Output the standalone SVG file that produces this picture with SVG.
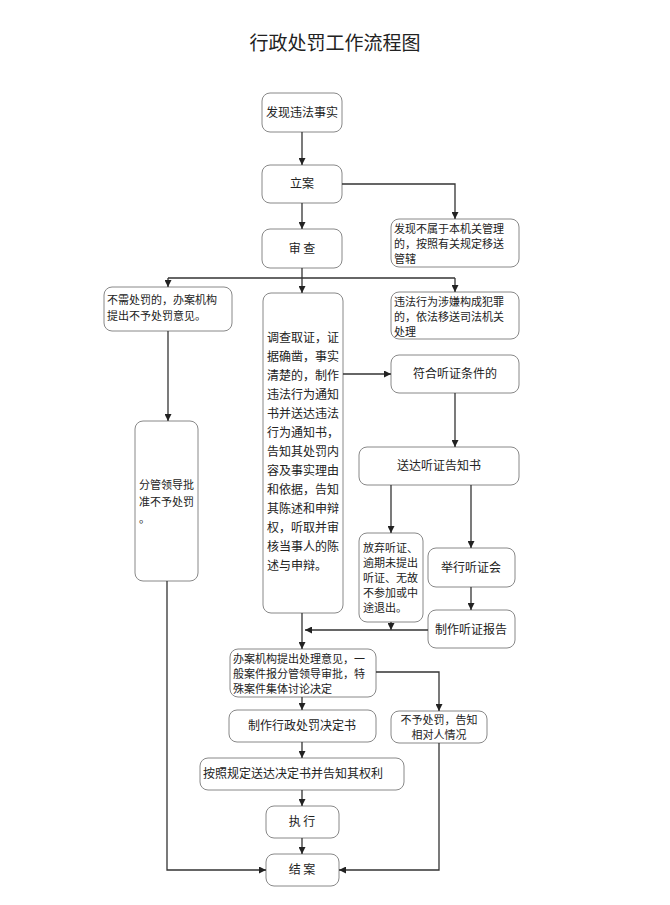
<svg xmlns="http://www.w3.org/2000/svg" width="670" height="905" viewBox="0 0 670 905">
<style>
rect{fill:#fff;stroke:#888;stroke-width:1}
text{font-family:"Noto Sans CJK SC","Liberation Serif",sans-serif;font-size:12px;fill:#222}
.s{font-size:11px}
.c{text-anchor:middle}
.l{fill:none;stroke:#333;stroke-width:1.3}
</style>
<defs><marker id="a" viewBox="0 0 10 10" refX="10" refY="5" markerWidth="7" markerHeight="7" orient="auto" markerUnits="userSpaceOnUse"><path d="M0,0L10,5L0,10z" fill="#222"/></marker></defs>
<rect x="0" y="0" width="670" height="905" style="stroke:none"/>
<text x="335" y="50" class="c" style="font-size:19px">行政处罚工作流程图</text>
<g id="n1"><rect x="262" y="93" width="80" height="39" rx="8"/><text x="302" y="117" class="c">发现违法事实</text></g>
<g id="n2"><rect x="262" y="165" width="80" height="38" rx="8"/><text x="302" y="188" class="c">立案</text></g>
<g id="n3"><rect x="262" y="229" width="80" height="39" rx="8"/><text x="302" y="253" class="c">审  查</text></g>
<g id="n4"><rect x="391" y="219" width="128" height="48" rx="8"/><text class="s" x="394" y="233">发现不属于本机关管理</text><text class="s" x="394" y="248">的，按照有关规定移送</text><text class="s" x="394" y="263">管辖</text></g>
<g id="n5"><rect x="104" y="287" width="128" height="44" rx="8"/><text class="s" x="107" y="304">不需处罚的，办案机构</text><text class="s" x="107" y="320">提出不予处罚意见。</text></g>
<g id="n6"><rect x="263" y="293" width="80" height="320" rx="8"/>
<text x="267" y="342">调查取证，证</text><text x="267" y="361">据确凿，事实</text><text x="267" y="380">清楚的，制作</text><text x="267" y="399">违法行为通知</text><text x="267" y="418">书并送达违法</text><text x="267" y="437">行为通知书，</text><text x="267" y="456">告知其处罚内</text><text x="267" y="475">容及事实理由</text><text x="267" y="494">和依据，告知</text><text x="267" y="513">其陈述和申辩</text><text x="267" y="532">权，听取并审</text><text x="267" y="551">核当事人的陈</text><text x="267" y="570">述与申辩。</text></g>
<g id="n7"><rect x="391" y="292" width="128" height="47" rx="8"/><text class="s" x="394" y="306">违法行为涉嫌构成犯罪</text><text class="s" x="394" y="321">的，依法移送司法机关</text><text class="s" x="394" y="336">处理</text></g>
<g id="n8"><rect x="391" y="355" width="128" height="38" rx="8"/><text x="455" y="378" class="c">符合听证条件的</text></g>
<g id="n9"><rect x="359" y="447" width="160" height="38" rx="8"/><text x="439" y="470" class="c">送达听证告知书</text></g>
<g id="n10"><rect x="135" y="421" width="63" height="160" rx="8"/><text class="s" x="139" y="489">分管领导批</text><text class="s" x="139" y="506">准不予处罚</text><text class="s" x="139" y="523">。</text></g>
<g id="n11"><rect x="359" y="533" width="64" height="89" rx="8"/><text class="s" x="363" y="552">放弃听证、</text><text class="s" x="363" y="567">逾期未提出</text><text class="s" x="363" y="582">听证、无故</text><text class="s" x="363" y="597">不参加或中</text><text class="s" x="363" y="612">途退出。</text></g>
<g id="n12"><rect x="428" y="548" width="87" height="39" rx="8"/><text x="471" y="572" class="c">举行听证会</text></g>
<g id="n13"><rect x="428" y="610" width="87" height="38" rx="8"/><text x="471" y="634" class="c">制作听证报告</text></g>
<g id="n14"><rect x="230" y="649" width="146" height="48" rx="8"/><text class="s" x="233" y="663">办案机构提出处理意见，一</text><text class="s" x="233" y="678">般案件报分管领导审批，特</text><text class="s" x="233" y="693">殊案件集体讨论决定</text></g>
<g id="n15"><rect x="229" y="710" width="147" height="32" rx="8"/><text x="302" y="730" class="c">制作行政处罚决定书</text></g>
<g id="n16"><rect x="391" y="711" width="96" height="32" rx="8"/><text x="439" y="724" class="c s">不予处罚，告知</text><text x="439" y="739" class="c s">相对人情况</text></g>
<g id="n17"><rect x="200" y="758" width="204" height="32" rx="8"/><text x="203" y="778">按照规定送达决定书并告知其权利</text></g>
<g id="n18"><rect x="266" y="806" width="73" height="32" rx="8"/><text x="302" y="826" class="c">执    行</text></g>
<g id="n19"><rect x="266" y="854" width="73" height="32" rx="8"/><text x="302" y="874" class="c">结    案</text></g>
<g id="connectors" class="l">
<path class="l" d="M302,132V165" marker-end="url(#a)"/>
<path class="l" d="M302,203V229" marker-end="url(#a)"/>
<path class="l" d="M342,184H455V219" marker-end="url(#a)"/>
<path class="l" d="M302,268V293" marker-end="url(#a)"/>
<path class="l" d="M168,278H455"/>
<path class="l" d="M168,278V287" marker-end="url(#a)"/>
<path class="l" d="M455,278V292" marker-end="url(#a)"/>
<path class="l" d="M168,331V421" marker-end="url(#a)"/>
<path class="l" d="M343,374H391" marker-end="url(#a)"/>
<path class="l" d="M455,393V447" marker-end="url(#a)"/>
<path class="l" d="M391,485V533" marker-end="url(#a)"/>
<path class="l" d="M471,485V548" marker-end="url(#a)"/>
<path class="l" d="M471,587V610" marker-end="url(#a)"/>
<path class="l" d="M391,622V630" marker-end="url(#a)"/>
<path class="l" d="M428,630H305" marker-end="url(#a)"/>
<path class="l" d="M302,613V649" marker-end="url(#a)"/>
<path class="l" d="M376,672H439V711" marker-end="url(#a)"/>
<path class="l" d="M302,697V710" marker-end="url(#a)"/>
<path class="l" d="M302,742V758" marker-end="url(#a)"/>
<path class="l" d="M302,790V806" marker-end="url(#a)"/>
<path class="l" d="M302,838V854" marker-end="url(#a)"/>
<path class="l" d="M167,581V870H266" marker-end="url(#a)"/>
<path class="l" d="M439,743V870H339" marker-end="url(#a)"/>
</g>
</svg>
